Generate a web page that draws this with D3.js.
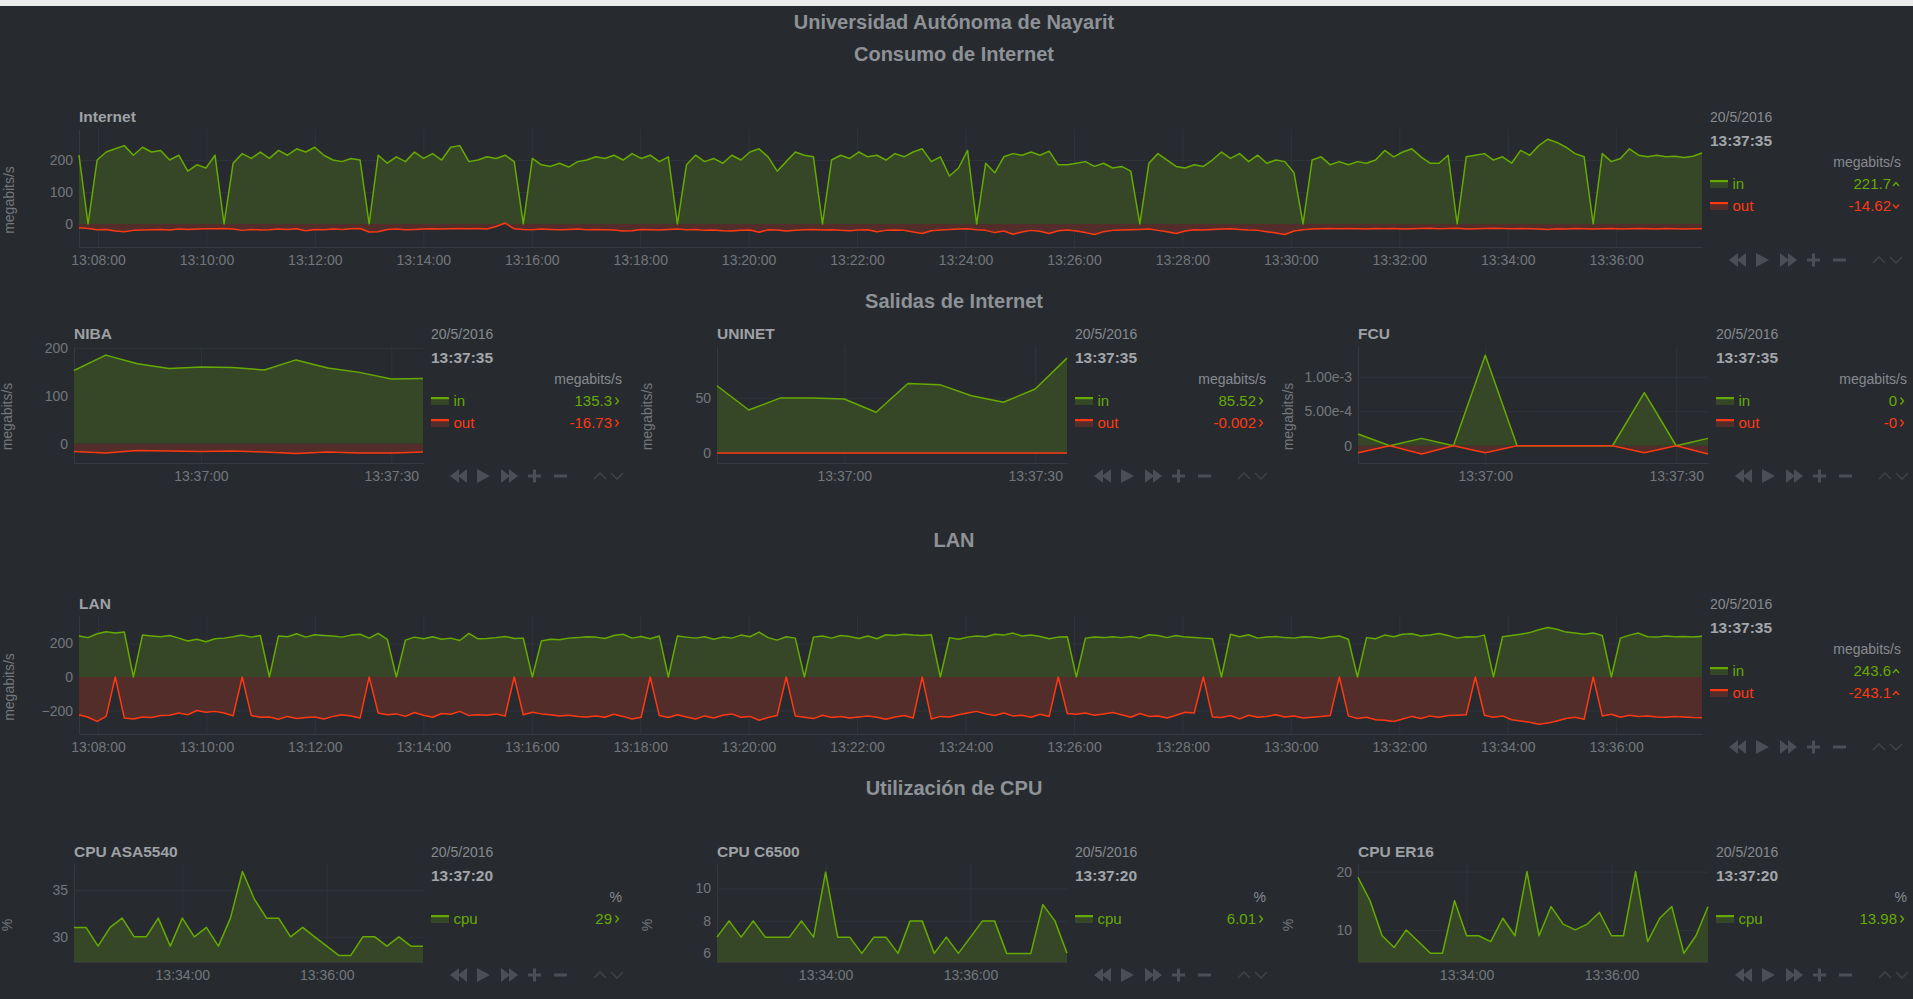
<!DOCTYPE html>
<html><head><meta charset="utf-8">
<script src="https://cdn.jsdelivr.net/npm/d3@7"></script>
<style>html,body{margin:0;padding:0;background:#272b30;overflow:hidden}</style>
</head><body>
<svg id="c" width="1913" height="999"></svg>
<script>
// ---------------- DATA ----------------
const pageTitle = "Universidad Autónoma de Nayarit";
const sectionTitles = ["Consumo de Internet", "Salidas de Internet", "LAN", "Utilización de CPU"];

const internetIn = [
 215,0,200,225,235,245,215,240,225,230,200,215,165,185,175,215,0,
 190,220,205,225,205,230,215,235,225,240,215,200,195,205,200,0,
 215,190,210,195,225,205,220,200,240,245,195,200,210,205,215,195,0,
 205,185,180,190,178,195,200,210,205,215,200,220,205,215,195,210,0,
 185,215,195,205,190,215,200,225,235,210,165,195,225,215,210,0,
 200,215,205,225,210,215,200,220,210,225,235,195,210,150,175,230,0,
 190,160,210,220,215,225,215,228,185,185,190,195,180,190,175,180,165,0,
 190,220,200,180,175,185,180,200,225,205,220,195,215,190,200,195,160,0,
 200,210,185,195,185,195,190,200,230,210,225,235,210,190,190,215,0,
 210,215,220,200,210,190,230,215,245,265,255,240,220,210,0,
 220,195,205,235,215,210,215,210,212,208,212,221.7];
const internetOut = [
 -12,-14,-18,-17,-22,-24,-20,-19,-18,-17,-19,-16,-17,-16,-15,-15,-14,-16,
 -20,-17,-19,-18,-16,-17,-15,-21,-17,-18,-16,-17,-15,-14,-25,-24,-17,-16,
 -18,-17,-16,-15,-16,-15,-14,-15,-14,-16,-8,3,-15,-17,-18,-16,-17,-18,
 -17,-16,-18,-17,-18,-19,-22,-21,-17,-18,-19,-17,-16,-18,-17,-20,-19,-21,
 -22,-20,-19,-26,-18,-19,-22,-20,-18,-17,-19,-18,-20,-21,-19,-18,-24,-20,
 -19,-20,-25,-30,-21,-19,-17,-16,-15,-18,-20,-27,-22,-32,-25,-20,-23,-30,
 -21,-19,-22,-27,-33,-24,-20,-19,-18,-17,-16,-20,-24,-30,-22,-18,-19,-17,
 -16,-15,-17,-19,-20,-24,-28,-33,-22,-18,-16,-15,-14,-15,-14,-15,-16,-14,
 -15,-14,-16,-15,-14,-13,-15,-14,-13,-16,-15,-14,-13,-14,-15,-14,-15,-16,
 -17,-15,-16,-14,-15,-16,-15,-14,-16,-15,-14,-15,-16,-14,-15,-16,-15,-14.62];

const lanIn = [
 245,235,258,270,262,268,0,250,245,240,248,232,215,225,210,228,232,240,250,238,248,0,
 245,240,258,238,252,248,245,238,250,255,232,260,225,0,
 220,238,228,240,225,232,218,260,228,230,235,242,230,232,0,
 215,225,222,232,235,240,238,230,248,255,232,242,228,245,0,
 245,238,232,240,225,238,232,250,240,268,235,220,240,232,0,
 238,245,232,248,242,230,245,228,252,248,255,250,248,252,0,
 235,225,238,245,240,255,250,262,245,250,242,228,238,240,0,
 232,238,235,240,235,242,232,252,248,235,248,238,235,232,228,0,
 255,240,252,232,238,242,235,232,240,238,230,240,245,225,0,
 235,228,250,240,255,258,245,250,260,248,232,240,238,250,0,
 240,248,255,265,282,295,285,268,262,255,262,248,0,
 232,250,262,240,238,245,240,242,238,243.6];
const lanOut = [
 -225,-240,-265,-235,0,
 -245,-250,-238,-242,-230,-228,-215,-225,-200,-210,-205,-215,-232,0,
 -230,-240,-238,-252,-235,-248,-242,-238,-250,-235,-225,-232,-245,0,
 -215,-225,-220,-235,-212,-228,-240,-218,-222,-205,-230,-225,-228,-220,-232,0,
 -225,-210,-220,-225,-232,-228,-235,-238,-232,-240,-222,-235,-250,-240,0,
 -230,-242,-225,-238,-250,-232,-245,-228,-220,-240,-235,-258,-242,-230,0,
 -232,-240,-248,-228,-242,-235,-245,-238,-232,-240,-252,-238,-230,-245,0,
 -250,-235,-238,-225,-215,-205,-220,-230,-215,-232,-228,-240,-222,-235,0,
 -218,-222,-215,-228,-220,-212,-225,-240,-218,-235,-232,-245,-228,-210,-215,0,
 -238,-242,-230,-250,-228,-240,-235,-225,-238,-232,-245,-240,-235,-230,0,
 -232,-248,-240,-255,-258,-265,-250,-235,-248,-232,-240,-230,-228,-225,0,
 -228,-240,-232,-255,-262,-270,-282,-275,-262,-248,-240,-252,0,
 -232,-222,-240,-228,-236,-232,-238,-240,-235,-238,-242,-243.1];

const nibaIn  = [153,185,167,157,160,159,154,175,158,149,135,136];
const nibaOut = [-16,-19,-14,-15,-16,-15,-17,-20,-17,-19,-19,-17];
const uninetIn  = [61,39,50,50,49,37,63,62,52,46,58,86];
const uninetOut = [-0.002,-0.002,-0.002,-0.002,-0.002,-0.002,-0.002,-0.002,-0.002,-0.002,-0.002,-0.002];
const fcuIn  = [1.7e-4,0,1.07e-4,0,1.31e-3,0,0,0,0,7.7e-4,0,1.07e-4];
const fcuOut = [-1.0e-4,0,-1.2e-4,0,-1.0e-4,0,0,0,0,-1.0e-4,0,-1.2e-4];

const cpuAsa5540 = [31,31,29,31,32,30,30,32,29,32,30,31,29,32,37,34,32,32,30,31,30,29,28,28,30,30,29,30,29,29];
const cpuC6500   = [7,8,7,8,7,7,7,8,7,11,7,7,6,7,7,6,8,8,6,7,6,7,8,8,6,6,6,9,8,6.01];
const cpuEr16    = [19,15,9,7,10,8,6,6,15,9,9,8,12,9,20,9,14,11,10,11,13,9,9,20,8,12,14,6,9,13.98];

const bigTicks   = ["13:08:00","13:10:00","13:12:00","13:14:00","13:16:00","13:18:00","13:20:00","13:22:00","13:24:00","13:26:00","13:28:00","13:30:00","13:32:00","13:34:00","13:36:00"];
const smallTicks = ["13:37:00","13:37:30"];
const cpuTicks   = ["13:34:00","13:36:00"];

const internetYTicks = [0,100,200];
const lanYTicks = [-200,0,200];
const nibaYTicks = [0,100,200];
const uninetYTicks = [0,50];
const fcuYTicks = [0,5e-4,1e-3];
const fcuYTickLabels = ["0","5.00e-4","1.00e-3"];
const asaYTicks = [30,35];
const c6500YTicks = [6,8,10];
const er16YTicks = [10,20];

const legendDate = "20/5/2016";
const netTime = "13:37:35";
const cpuTime = "13:37:20";
const internetLegend = ["221.7","-14.62"];
const lanLegend = ["243.6","-243.1"];
const nibaLegend = ["135.3","-16.73"];
const uninetLegend = ["85.52","-0.002"];
const fcuLegend = ["0","-0"];
const asaLegend = ["29"];
const c6500Legend = ["6.01"];
const er16Legend = ["13.98"];

// ---------------- STYLE ----------------
const FONT = '"Liberation Sans", Arial, Helvetica, sans-serif';
const BG = "#272b30";
const HEAD = "#8e9297";
const TITLE = "#9ea1a5";
const TICK = "#72777c";
const GRID = "#30343a";
const AXIS = "#363a40";
const GREEN = "#66aa00", GREEN_F = "#354727";
const RED = "#fe3912", RED_F = "#522d2a";
const CTRL = "#4b4f55", CTRL2 = "#3e4247";

const parseT = s => { const [h,m,sec] = s.split(":").map(Number); return new Date(2016,4,20,h,m,sec); };

const svg = d3.select("#c");
svg.append("rect").attr("width",1913).attr("height",999).attr("fill",BG);
svg.append("rect").attr("width",1913).attr("height",6).attr("fill","#ececec");

function txt(g, x, y, s, o={}) {
  return g.append("text").attr("x",x).attr("y",y).text(s)
    .attr("font-family",FONT).attr("font-size",o.size||14)
    .attr("font-weight",o.weight||"normal").attr("fill",o.fill||TICK)
    .attr("text-anchor",o.anchor||"start");
}

// headings
txt(svg, 954, 29, pageTitle, {size:20, weight:"bold", anchor:"middle", fill:HEAD});
txt(svg, 954, 61, sectionTitles[0], {size:20, weight:"bold", anchor:"middle", fill:HEAD});
txt(svg, 954, 308, sectionTitles[1], {size:20, weight:"bold", anchor:"middle", fill:HEAD});
txt(svg, 954, 547, sectionTitles[2], {size:20, weight:"bold", anchor:"middle", fill:HEAD});
txt(svg, 954, 795, sectionTitles[3], {size:20, weight:"bold", anchor:"middle", fill:HEAD});

function controls(g, lx, cy) {
  const c = g.append("g").attr("fill",CTRL);
  c.append("path").attr("d",`M${lx+28},${cy-7}L${lx+19},${cy}L${lx+28},${cy+7}ZM${lx+36},${cy-7}L${lx+27},${cy}L${lx+36},${cy+7}Z`);
  c.append("path").attr("d",`M${lx+46},${cy-7}L${lx+59},${cy}L${lx+46},${cy+7}Z`);
  c.append("path").attr("d",`M${lx+70},${cy-7}L${lx+79},${cy}L${lx+70},${cy+7}ZM${lx+78},${cy-7}L${lx+87},${cy}L${lx+78},${cy+7}Z`);
  c.append("rect").attr("x",lx+97).attr("y",cy-1.5).attr("width",13).attr("height",3);
  c.append("rect").attr("x",lx+102).attr("y",cy-6.5).attr("width",3).attr("height",13);
  c.append("rect").attr("x",lx+123).attr("y",cy-1.5).attr("width",13).attr("height",3);
  g.append("path").attr("d",`M${lx+163},${cy+3}L${lx+169},${cy-3}L${lx+175},${cy+3}M${lx+180},${cy-3}L${lx+186},${cy+3}L${lx+192},${cy-3}`)
    .attr("fill","none").attr("stroke",CTRL2).attr("stroke-width",1.6);
}

function arrow(g, x, cy, kind, color) {
  let d;
  if (kind === "up") d = `M${x},${cy+2}L${x+3},${cy-1.5}L${x+6},${cy+2}`;
  else if (kind === "down") d = `M${x},${cy-1.5}L${x+3},${cy+2}L${x+6},${cy-1.5}`;
  else d = `M${x+1.5},${cy-3.5}L${x+4.5},${cy}L${x+1.5},${cy+3.5}`;
  g.append("path").attr("d",d).attr("fill","none").attr("stroke",color).attr("stroke-width",1.3);
}

function chart(cfg) {
  const g = svg.append("g");
  const {left,right,top,bottom} = cfg;
  const x = d3.scaleTime().domain(cfg.xDomain.map(parseT)).range([left,right]);
  const y = d3.scaleLinear().domain(cfg.yDomain).range([bottom,top]);
  const t0 = parseT(cfg.xDomain[0]).getTime(), t1 = parseT(cfg.xDomain[1]).getTime();
  const base = y(Math.max(cfg.yDomain[0], Math.min(cfg.yDomain[1], 0)));

  // axes with grid
  const ax = g.append("g").attr("transform",`translate(0,${bottom})`)
    .call(d3.axisBottom(x).tickValues(cfg.xTicks.map(parseT)).tickFormat(d3.timeFormat("%H:%M:%S"))
      .tickSizeInner(-(bottom-top)).tickSizeOuter(0).tickPadding(8));
  const ay = g.append("g").attr("transform",`translate(${left},0)`)
    .call(d3.axisLeft(y).tickValues(cfg.yTicks).tickFormat((d,i)=> cfg.yLabels ? cfg.yLabels[i] : d3.format("d")(d))
      .tickSizeInner(-(right-left)).tickSizeOuter(0).tickPadding(6));
  [ax,ay].forEach(a => {
    a.select(".domain").attr("stroke",AXIS);
    a.selectAll(".tick line").attr("stroke",GRID);
    a.selectAll(".tick text").attr("fill",TICK).attr("font-size",14).attr("font-family",FONT);
  });

  // series
  const ptsOf = s => { const n = s.values.length; return s.values.map((v,i)=>({t:new Date(t0 + (t1-t0)*i/(n-1)), v})); };
  cfg.series.forEach(s => {
    g.append("path").datum(ptsOf(s)).attr("fill",s.fill)
      .attr("d", d3.area().x(d=>x(d.t)).y0(base).y1(d=>y(d.v)));
  });
  cfg.series.forEach(s => {
    g.append("path").datum(ptsOf(s)).attr("fill","none").attr("stroke",s.color).attr("stroke-width",1.5)
      .attr("stroke-linejoin","round")
      .attr("d", d3.line().x(d=>x(d.t)).y(d=>y(d.v)));
  });

  // title & y title
  txt(g, left, top-7, cfg.title, {size:15.5, weight:"bold", fill:TITLE});
  const yc = (top+bottom)/2 + 12, bx = Math.max(left - 65, 12);
  txt(g, 0, 0, cfg.yTitle, {size:14, anchor:"middle", fill:TICK})
    .attr("transform",`translate(${bx},${yc}) rotate(-90)`);

  // legend
  const lx = right + 8;
  txt(g, lx, top-7, legendDate, {size:14, fill:"#868a8f"});
  txt(g, lx, top+16.5, cfg.time, {size:15.5, weight:"bold", fill:"#a3a6aa"});
  txt(g, lx+191, top+38, cfg.unit, {size:14, anchor:"end", fill:"#868a8f"});
  cfg.series.forEach((s,i) => {
    const cy = top + 54 + i*22;
    g.append("rect").attr("x",lx).attr("y",cy-3).attr("width",18).attr("height",8).attr("fill",s.fill);
    g.append("rect").attr("x",lx).attr("y",cy-3).attr("width",18).attr("height",2.2).attr("fill",s.color);
    txt(g, lx+22.5, cy+5.5, s.name, {size:15, fill:s.color});
    txt(g, lx+181, cy+5.5, s.legend, {size:15, anchor:"end", fill:s.color});
    arrow(g, lx+183, cy+1, s.arrow, s.color);
  });
  controls(g, lx, bottom+13);
}

const netXBig = ["13:07:39","13:37:35"];
const netXSmall = ["13:36:40","13:37:35"];
const cpuX = ["13:32:30","13:37:20"];

chart({title:"Internet", left:79, right:1702, top:129, bottom:247, xDomain:netXBig, yDomain:[-72,297],
  xTicks:bigTicks, yTicks:internetYTicks, yTitle:"megabits/s", unit:"megabits/s", time:netTime,
  series:[{name:"in", values:internetIn, color:GREEN, fill:GREEN_F, legend:internetLegend[0], arrow:"up"},
          {name:"out", values:internetOut, color:RED, fill:RED_F, legend:internetLegend[1], arrow:"down"}]});

chart({title:"NIBA", left:74, right:423, top:346, bottom:463, xDomain:netXSmall, yDomain:[-40,204],
  xTicks:smallTicks, yTicks:nibaYTicks, yTitle:"megabits/s", unit:"megabits/s", time:netTime,
  series:[{name:"in", values:nibaIn, color:GREEN, fill:GREEN_F, legend:nibaLegend[0], arrow:"right"},
          {name:"out", values:nibaOut, color:RED, fill:RED_F, legend:nibaLegend[1], arrow:"right"}]});

chart({title:"UNINET", left:717, right:1067, top:346, bottom:463, xDomain:netXSmall, yDomain:[-9,97],
  xTicks:smallTicks, yTicks:uninetYTicks, yTitle:"megabits/s", unit:"megabits/s", time:netTime,
  series:[{name:"in", values:uninetIn, color:GREEN, fill:GREEN_F, legend:uninetLegend[0], arrow:"right"},
          {name:"out", values:uninetOut, color:RED, fill:RED_F, legend:uninetLegend[1], arrow:"right"}]});

chart({title:"FCU", left:1358, right:1708, top:346, bottom:463, xDomain:netXSmall, yDomain:[-2.5e-4,1.445e-3],
  xTicks:smallTicks, yTicks:fcuYTicks, yLabels:fcuYTickLabels, yTitle:"megabits/s", unit:"megabits/s", time:netTime,
  series:[{name:"in", values:fcuIn, color:GREEN, fill:GREEN_F, legend:fcuLegend[0], arrow:"right"},
          {name:"out", values:fcuOut, color:RED, fill:RED_F, legend:fcuLegend[1], arrow:"right"}]});

chart({title:"LAN", left:79, right:1702, top:616, bottom:734, xDomain:netXBig, yDomain:[-340,364],
  xTicks:bigTicks, yTicks:lanYTicks, yTitle:"megabits/s", unit:"megabits/s", time:netTime,
  series:[{name:"in", values:lanIn, color:GREEN, fill:GREEN_F, legend:lanLegend[0], arrow:"up"},
          {name:"out", values:lanOut, color:RED, fill:RED_F, legend:lanLegend[1], arrow:"up"}]});

chart({title:"CPU ASA5540", left:74, right:423, top:864, bottom:962, xDomain:cpuX, yDomain:[27.3,37.8],
  xTicks:cpuTicks, yTicks:asaYTicks, yTitle:"%", unit:"%", time:cpuTime,
  series:[{name:"cpu", values:cpuAsa5540, color:GREEN, fill:GREEN_F, legend:asaLegend[0], arrow:"right"}]});

chart({title:"CPU C6500", left:717, right:1067, top:864, bottom:962, xDomain:cpuX, yDomain:[5.47,11.5],
  xTicks:cpuTicks, yTicks:c6500YTicks, yTitle:"%", unit:"%", time:cpuTime,
  series:[{name:"cpu", values:cpuC6500, color:GREEN, fill:GREEN_F, legend:c6500Legend[0], arrow:"right"}]});

chart({title:"CPU ER16", left:1358, right:1708, top:864, bottom:962, xDomain:cpuX, yDomain:[4.5,21.3],
  xTicks:cpuTicks, yTicks:er16YTicks, yTitle:"%", unit:"%", time:cpuTime,
  series:[{name:"cpu", values:cpuEr16, color:GREEN, fill:GREEN_F, legend:er16Legend[0], arrow:"right"}]});
</script>
</body></html>
